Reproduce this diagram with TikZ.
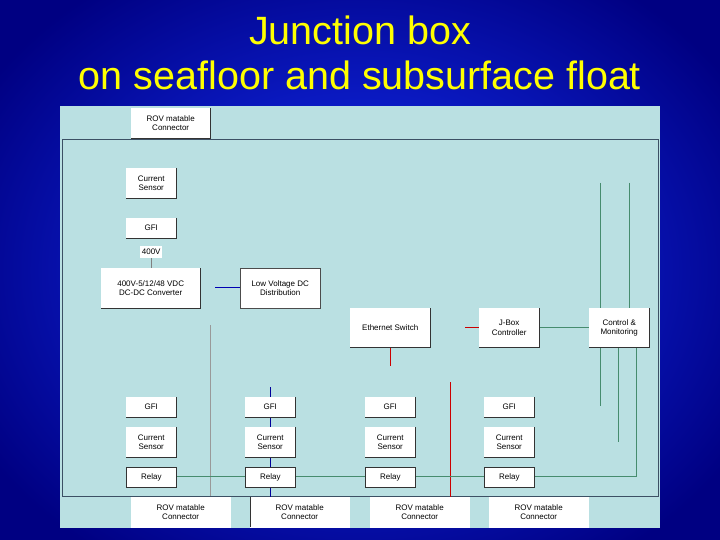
\documentclass[tikz,border=0pt]{standalone}
\usepackage{fontspec}
\setmainfont{Liberation Sans}
\definecolor{gline}{RGB}{70,140,110}
\definecolor{panel}{RGB}{186,224,226}
\begin{document}
\begin{tikzpicture}[x=1pt,y=-1pt,
  bx/.style={draw=white,fill=white,inner sep=0pt,align=center,font=\fontsize{8}{9.5}\selectfont,anchor=north west},
  gl/.style={draw=gline,line width=0.8pt}]
\useasboundingbox (0,0) rectangle (720,540);
\shade[inner color={rgb,255:red,20;green,50;blue,255},outer color={rgb,255:red,0;green,0;blue,130}] (-80,-80) rectangle (800,620);
\node[text={rgb,255:red,255;green,255;blue,0},font=\fontsize{39.5}{45}\selectfont,align=center] (title) at (360,53) {Junction box\\on seafloor and subsurface float};
\fill[panel] (60,106) rectangle (660,528);
\draw[draw={rgb,255:red,60;green,80;blue,100},line width=0.7pt] (62,139) rectangle (658,496);
\newcommand{\bxx}[6]{\node[bx,minimum width=#3pt,minimum height=#4pt] (#1) at (#2) {#5};
  \draw[black!80,line width=0.8pt] (#1.north east)--(#1.south east)--(#1.south west);}
% lines
\draw[gray!80,line width=0.7pt] (210,325)--(210,496);
\draw[blue!60!black,line width=0.8pt] (270,387)--(270,527);
\draw[red!80!black,line width=0.8pt] (450,382)--(450,497);
\draw[red!80!black,line width=0.8pt] (390,347)--(390,366);
\draw[red!80!black,line width=0.8pt] (465,327)--(479,327);
\draw[gl] (539,327)--(589,327);
\draw[gl] (600,183)--(600,308) (629,183)--(629,308);
\draw[gl] (600,347)--(600,406) (618,347)--(618,442) (636,347)--(636,476)--(176,476);
\draw[blue!70!black,line width=0.9pt] (215,287)--(240,287);
\draw[gray,line width=0.6pt] (151,258)--(151,268);
% top boxes
\bxx{rovt}{131,108}{79}{30}{ROV matable\\Connector}{}
\bxx{cst}{126,168}{50}{30}{Current\\Sensor}{}
\bxx{gfit}{126,218}{50}{20}{GFI}{}
\node[bx,minimum width=22pt,minimum height=12pt,draw=none] (v400) at (140,246) {400V};
\bxx{conv}{101,268}{99}{40}{400V-5/12/48 VDC\\DC-DC Converter}{}
\node[bx,minimum width=80pt,minimum height=40pt,draw=black!70] (lvdc) at (240,268) {Low Voltage DC\\Distribution};
\bxx{eth}{350,308}{80}{39}{Ethernet Switch}{}
\bxx{jbox}{479,308}{60}{39}{J-Box\\Controller}{}
\bxx{ctl}{589,308}{60}{39}{Control \&\\Monitoring}{}
% columns
\foreach \i/\cx in {1/151,2/270,3/390,4/509}{
  \bxx{gfi\i}{\cx-25,397}{50}{20}{GFI}{}
  \bxx{cs\i}{\cx-25,427}{50}{30}{Current\\Sensor}{}
  \node[bx,minimum width=50pt,minimum height=20pt,draw=black!80,line width=0.8pt] (rel\i) at (\cx-25,467) {Relay};
}
\foreach \i/\lx in {1/131,2/250,3/370,4/489}{
  \node[bx,minimum width=99pt,minimum height=30pt] (rov\i) at (\lx,497) {ROV matable\\Connector};
}
\draw[black!80,line width=0.8pt] (250,497)--(250,527);
\end{tikzpicture}
\end{document}
